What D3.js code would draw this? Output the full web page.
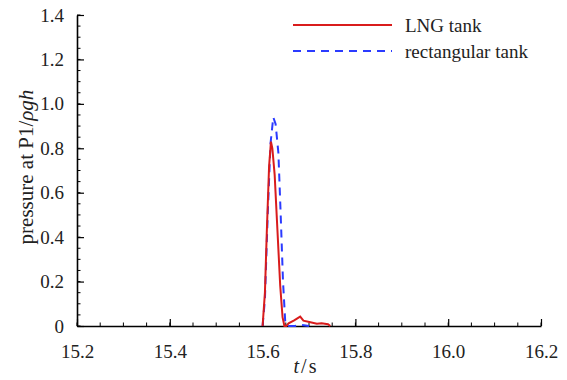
<!DOCTYPE html>
<html>
<head>
<meta charset="utf-8">
<script src="https://cdn.jsdelivr.net/npm/d3@7"></script>
<style>
body { margin: 0; background: #fff; }
svg text { font-family: "Liberation Serif", Tinos, "Times New Roman", Times, "DejaVu Serif", serif !important; }
</style>
</head>
<body>
<script>
var w = 567;
var h = 380;

// pressure at P1 (LNG tank)
var tRed = [15.600, 15.605, 15.609, 15.614, 15.618, 15.621, 15.626, 15.632, 15.638, 15.643, 15.647, 15.651,
            15.656, 15.668, 15.681, 15.688, 15.703, 15.717, 15.727, 15.741, 15.746];
var pRed = [0, 0.15, 0.42, 0.72, 0.83, 0.80, 0.68, 0.43, 0.18, 0.04, 0.0, 0.0,
            0.012, 0.025, 0.042, 0.024, 0.017, 0.01, 0.012, 0.008, 0];
// rectangular tank
var tBlue = [15.600, 15.605, 15.611, 15.617, 15.623, 15.628, 15.634, 15.639, 15.644, 15.649, 15.655, 15.670, 15.685, 15.700];
var pBlue = [0, 0.12, 0.5, 0.82, 0.94, 0.91, 0.78, 0.5, 0.2, 0.01, 0, 0, 0.005, 0];

var xTicks = [15.2, 15.4, 15.6, 15.8, 16.0, 16.2];
var yTicks = [0, 0.2, 0.4, 0.6, 0.8, 1.0, 1.2, 1.4];
var seriesNames = ["LNG tank", "rectangular tank"];

var svg = d3.select("body")
            .append("svg")
            .attr("width", w)
            .attr("height", h);

var x = d3.scaleLinear().domain([15.2, 16.2]).range([77, 541]);
var y = d3.scaleLinear().domain([0, 1.4]).range([326, 15]);

/**** minor ticks ****/
var xMinor = d3.range(15.2, 16.2001, 0.05);
var yMinor = d3.range(0, 1.4001, 0.05);

svg.selectAll("line.xminor").data(xMinor).enter().append("line")
    .attr("x1", function(d){ return x(d); })
    .attr("x2", function(d){ return x(d); })
    .attr("y1", y(0))
    .attr("y2", y(0) - 3.5)
    .attr("stroke", "#000").attr("stroke-width", 1);

svg.selectAll("line.yminor").data(yMinor).enter().append("line")
    .attr("x1", x(15.2))
    .attr("x2", x(15.2) + 3.5)
    .attr("y1", function(d){ return y(d); })
    .attr("y2", function(d){ return y(d); })
    .attr("stroke", "#000").attr("stroke-width", 1);

/**** axes ****/
var xAxis = d3.axisBottom(x).tickValues(xTicks).tickSizeInner(-7).tickSizeOuter(0)
    .tickPadding(19).tickFormat(d3.format(".1f"));
var yAxis = d3.axisLeft(y).tickValues(yTicks).tickSizeInner(-7).tickSizeOuter(0)
    .tickPadding(13).tickFormat(function(d){ return d === 0 ? "0" : d3.format(".1f")(d); });

var gx = svg.append("g").attr("transform", "translate(0," + y(0) + ")").call(xAxis);
var gy = svg.append("g").attr("transform", "translate(" + x(15.2) + ",0)").call(yAxis);

[gx, gy].forEach(function(g){
  g.attr("font-family", null);
  g.select(".domain").attr("stroke", "#000").attr("stroke-width", 1.6);
  g.selectAll(".tick line").attr("stroke", "#000").attr("stroke-width", 1.2);
  g.selectAll(".tick text")
    .attr("font-size", 19)
    .attr("fill", "#222");
});

/**** lines ****/
var line = d3.line()
    .x(function(d){ return x(d[0]); })
    .y(function(d){ return y(d[1]); });

svg.append("path")
    .datum(d3.zip(tBlue, pBlue))
    .attr("d", line)
    .attr("fill", "none")
    .attr("stroke", "#2b3bff")
    .attr("stroke-width", 2)
    .attr("stroke-dasharray", "8,6");

svg.append("path")
    .datum(d3.zip(tRed, pRed))
    .attr("d", line)
    .attr("fill", "none")
    .attr("stroke", "#d91c1c")
    .attr("stroke-width", 2);

/**** legend ****/
var legendColor = ["#d91c1c", "#2b3bff"];
var legendDash = [null, "8,6"];
var lg = svg.selectAll("g.legend").data(seriesNames).enter().append("g")
    .attr("transform", function(d, i){ return "translate(0," + (25 + i * 26) + ")"; });
lg.append("line")
    .attr("x1", 293).attr("x2", 392).attr("y1", 0).attr("y2", 0)
    .attr("stroke", function(d, i){ return legendColor[i]; })
    .attr("stroke-width", 2)
    .attr("stroke-dasharray", function(d, i){ return legendDash[i]; });
lg.append("text")
    .text(function(d){ return d; })
    .attr("x", 405).attr("y", 6.5)
    .attr("font-size", 19)
    .attr("fill", "#222");

/**** axis titles ****/
var xt = svg.append("text")
    .attr("x", 305).attr("y", 373)
    .attr("text-anchor", "middle")
    .attr("font-size", 20)
    .attr("fill", "#222");
xt.append("tspan").attr("font-style", "italic").text("t");
xt.append("tspan").attr("dx", 2).text("/");
xt.append("tspan").attr("dx", 2).text("s");

var yt = svg.append("text")
    .attr("transform", "translate(33,167) rotate(-90)")
    .attr("text-anchor", "middle")
    .attr("font-size", 21)
    .attr("fill", "#222");
yt.append("tspan").text("pressure at P1/");
yt.append("tspan").attr("font-style", "italic").text("ρgh");
</script>
</body>
</html>
